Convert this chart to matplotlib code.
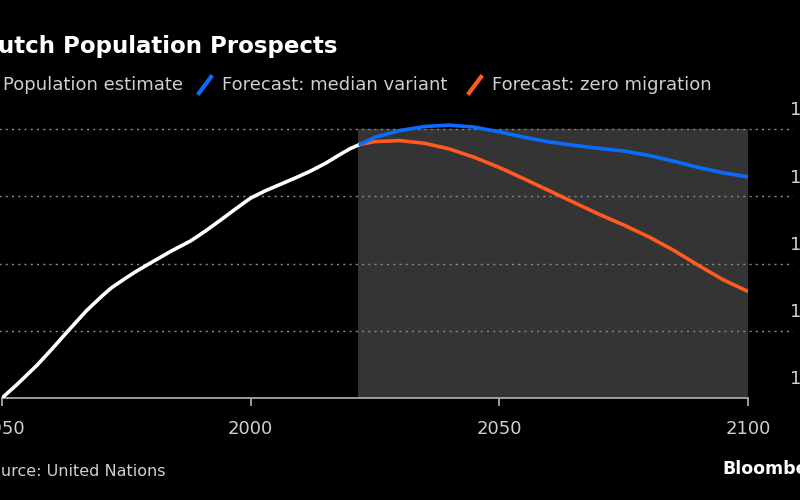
import numpy as np
import matplotlib.pyplot as plt
from matplotlib.lines import Line2D

# population in millions
est_years = [1950, 1953, 1957, 1960, 1963, 1967, 1970, 1972, 1975, 1977, 1980,
             1984, 1988, 1991, 1994, 1997, 2000, 2003, 2006, 2009, 2012,
             2015, 2018, 2020, 2022]
est_pop = [10.0, 10.4, 10.97, 11.45, 11.95, 12.6, 13.02, 13.28, 13.58, 13.77, 14.03,
           14.37, 14.68, 14.98, 15.3, 15.63, 15.95, 16.17, 16.36, 16.55, 16.75,
           16.98, 17.25, 17.42, 17.55]

fc_years = [2022, 2025, 2030, 2035, 2040, 2045, 2050, 2055, 2060, 2065,
            2070, 2075, 2080, 2085, 2090, 2095, 2100]
median_pop = [17.55, 17.76, 17.96, 18.08, 18.12, 18.06, 17.92, 17.76, 17.62, 17.52,
              17.43, 17.35, 17.22, 17.05, 16.86, 16.7, 16.58]
zero_mig_pop = [17.55, 17.63, 17.66, 17.58, 17.41, 17.16, 16.86, 16.52, 16.17, 15.82,
                15.47, 15.15, 14.8, 14.4, 13.95, 13.52, 13.17]

y_ticks = [10, 12, 14, 16, 18]
y_labels = ['10M', '12M', '14M', '16M', '18M']
x_ticks = [1950, 2000, 2050, 2100]

W, H = 800, 500
BG = 'black'
TXT = '#cfcfcf'
BLUE = '#0a6cff'
ORANGE = '#ff5a22'

fig = plt.figure(figsize=(8, 5), dpi=100, facecolor=BG)
ax = fig.add_axes([2 / W, 102 / H, 746 / W, 289 / H], facecolor=BG)
ax.set_xlim(1950, 2100)
ax.set_ylim(10, 18.6)

# forecast shading
ax.fill_between([2021.6, 2100], 10, 18, color='#343434', zorder=1, lw=0)

# dotted gridlines running past the axis to the labels
for v in y_ticks[1:]:
    ax.axhline(v, xmin=-0.01, xmax=1.06, color='#8a8a8a', lw=1, ls=(0, (1.5, 3)),
               clip_on=False, zorder=2)
for v, lab in zip(y_ticks, y_labels):
    ax.text(1.056, v + 0.56, lab, transform=ax.get_yaxis_transform(),
            color=TXT, fontsize=13, va='center', ha='left', clip_on=False)

ax.plot(est_years, est_pop, color='white', lw=2.6, zorder=4,
        solid_capstyle='round', solid_joinstyle='round')
ax.plot(fc_years, median_pop, color=BLUE, lw=2.6, zorder=4,
        solid_capstyle='round', solid_joinstyle='round')
ax.plot(fc_years, zero_mig_pop, color=ORANGE, lw=2.6, zorder=3,
        solid_capstyle='round', solid_joinstyle='round')

for s in ['top', 'right', 'left']:
    ax.spines[s].set_visible(False)
ax.spines['bottom'].set_color('#a8a8a8')
ax.spines['bottom'].set_linewidth(1.3)
ax.set_yticks([])
ax.set_xticks(x_ticks)
ax.tick_params(axis='x', colors='#a8a8a8', length=6, width=1.3, pad=10,
               labelcolor=TXT, labelsize=13)

# title, legend, footer (left edge is cropped in the reference)
fig.text(-21 / W, 1 - 53 / H, 'Dutch Population Prospects', color='white',
         fontsize=16.5, fontweight='bold', ha='left', va='baseline')

legend = [('white', 'Population estimate', -22),
          (BLUE, 'Forecast: median variant', 197),
          (ORANGE, 'Forecast: zero migration', 467)]
for col, lab, x0 in legend:
    fig.add_artist(Line2D([(x0 + 2) / W, (x0 + 14) / W], [1 - 93 / H, 1 - 77 / H],
                          color=col, lw=3, transform=fig.transFigure))
    fig.text((x0 + 25) / W, 1 - 85 / H, lab, color=TXT, fontsize=13,
             ha='left', va='center')

fig.text(-19 / W, 1 - 471 / H, 'Source: United Nations', color=TXT, fontsize=11.5,
         ha='left', va='center')
fig.text(722 / W, 1 - 469 / H, 'Bloomberg', color='white', fontsize=12.5,
         fontweight='bold', ha='left', va='center')

fig.savefig('out.png', dpi=100, facecolor=BG)
